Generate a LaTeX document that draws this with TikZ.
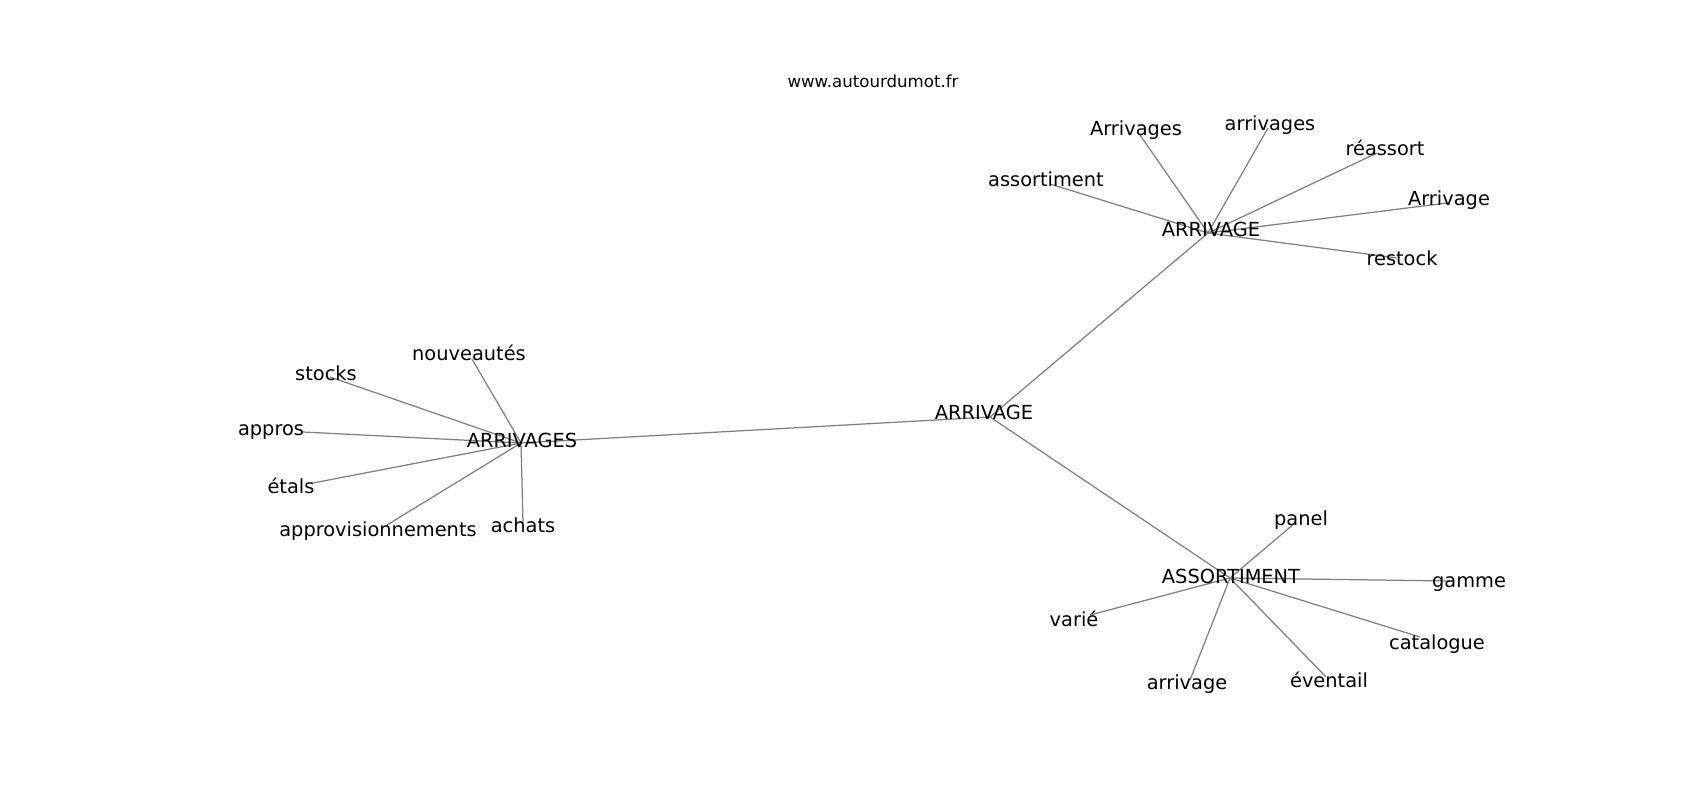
\documentclass[tikz,border=0pt]{standalone}
\usepackage{fontspec}
\setmainfont{DejaVu Sans}

\begin{document}
\begin{tikzpicture}[x=0.01in, y=-0.01in,
  lbl/.style={anchor=base, inner sep=0pt, font=\fontsize{14}{16}\selectfont},
  edge/.style={draw=gray, line width=0.9pt}]
\useasboundingbox (0,0) rectangle (1700,800);

% Titre
\node[anchor=base, inner sep=0pt, font=\fontsize{12}{14}\selectfont] (titre) at (873,88) {www.autourdumot.fr};

% Les centres
\coordinate (c0) at (990,417);
\coordinate (c1) at (1208,233);
\coordinate (c2) at (521,443);
\coordinate (c3) at (1230,578);
\foreach \h in {c1,c2,c3} {
    \draw[edge] (c0) -- (\h);
}

% Les feuilles autour de chaque centre
\foreach \h/\n/\px/\py/\tx/\ty/\txt in {
    c1/a1/1050/184/1046/187/assortiment, c1/a2/1140/135/1136/136/Arrivages,
    c1/a3/1268/128/1270/131/arrivages, c1/a4/1377/153/1385/156/réassort,
    c1/a5/1447/203/1449/206/Arrivage, c1/a6/1397/258/1402/266/restock,
    c2/b1/472/359/469/361/nouveautés, c2/b2/330/377/326/381/stocks,
    c2/b3/303/432/271/436/appros, c2/b4/313/483/291/493/étals,
    c2/b5/387/525/378/536/approvisionnements, c2/b6/523/523/523/532/achats,
    c3/d1/1295/523/1301/525/panel, c3/d2/1090/615/1074/626/varié,
    c3/d3/1190/680/1187/689/arrivage, c3/d4/1326/677/1329/687/éventail,
    c3/d5/1450/581/1469/587/gamme, c3/d6/1420/637/1437/649/catalogue} {
    \coordinate (\n) at (\px,\py);
    \draw[edge] (\h) -- (\n);
    \node[lbl] (t\n) at (\tx,\ty) {\txt};
}

% Les noms des centres
\node[lbl] (tc0) at (984,419) {ARRIVAGE};
\node[lbl] (tc1) at (1211,237) {ARRIVAGE};
\node[lbl] (tc2) at (522,447) {ARRIVAGES};
\node[lbl] (tc3) at (1231,583) {ASSORTIMENT};
\end{tikzpicture}
\end{document}
